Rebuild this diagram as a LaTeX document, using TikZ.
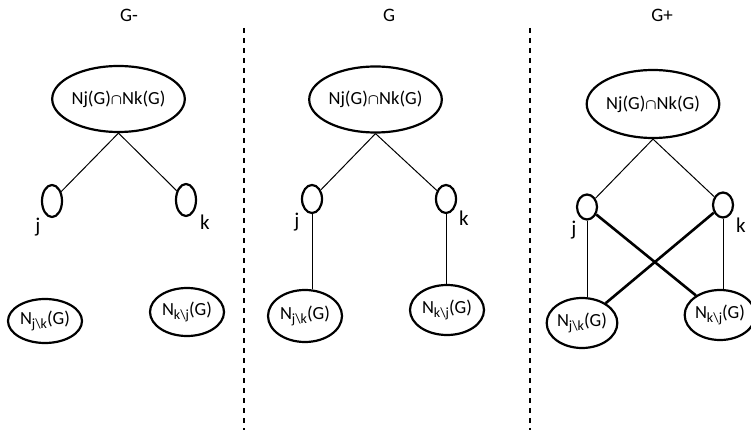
\documentclass[tikz,border=0pt]{standalone}
\usepackage{fontspec}
\setmainfont{Carlito}
\usepackage{amsmath,amssymb}
\usetikzlibrary{shapes.geometric}
\newcommand{\capsym}{\scalebox{0.85}{$\boldsymbol{\cap}$}}
\newcommand{\mysub}[1]{\raisebox{-0.25em}{\fontsize{14}{15}\selectfont #1}}
\newcommand{\Njk}{N\mysub{j\textbackslash k}(G)}
\newcommand{\Nkj}{N\mysub{k\textbackslash j}(G)}
\begin{document}
\begin{tikzpicture}[x=1pt,y=-1pt,
  ell/.style={draw,ellipse,line width=2.2pt,inner sep=0pt,font=\fontsize{18.5}{20}\selectfont},
  vtx/.style={draw,ellipse,line width=2.2pt,inner sep=0pt,minimum width=20pt},
  lab/.style={font=\fontsize{21}{23}\selectfont,inner sep=0pt},
  ttl/.style={font=\fontsize{19}{21}\selectfont,inner sep=0pt},
  edge/.style={line width=1pt},
  thinedge/.style={line width=0.8pt},
  thickedge/.style={line width=2.6pt},
  sep/.style={line width=1.8pt,dash pattern=on 5pt off 5pt}]
\useasboundingbox (0,0) rectangle (751,430);
% titles
\node[ttl] (t1) at (129,15) {G-};
\node[ttl] (t2) at (389,15) {G};
\node[ttl] (t3) at (662,15) {G+};
% separators
\coordinate (s1a) at (244,28); \coordinate (s1b) at (244,430);
\coordinate (s2a) at (530,28); \coordinate (s2b) at (530,430);
\draw[sep] (s1a) -- (s1b);
\draw[sep] (s2a) -- (s2b);
% panel 1
\node[ell,minimum width=103pt,minimum height=66pt] (T1) at (118.5,99) {Nj(G)\capsym Nk(G)};
\node[vtx,minimum height=32pt] (j1) at (52,201) {};
\node[vtx,minimum height=32pt] (k1) at (186,200) {};
\node[lab] (lj1) at (38,227) {j};
\node[lab] (lk1) at (205,222) {k};
\node[ell,minimum width=74pt,minimum height=44pt] (A1) at (45,321) {\Njk};
\node[ell,minimum width=74pt,minimum height=48pt] (B1) at (187,312) {\Nkj};
\draw[edge] (T1.south) -- (j1);
\draw[edge] (T1.south) -- (k1);
% panel 2
\node[ell,minimum width=104pt,minimum height=66pt] (T2) at (375.5,99.5) {Nj(G)\capsym Nk(G)};
\node[vtx,minimum height=28pt] (j2) at (312,199) {};
\node[vtx,minimum height=28pt] (k2) at (446,199) {};
\node[lab] (lj2) at (297,222) {j};
\node[lab] (lk2) at (464,218) {k};
\node[ell,minimum width=74pt,minimum height=52pt] (A2) at (305,316) {\Njk};
\node[ell,minimum width=74pt,minimum height=50pt] (B2) at (447,310) {\Nkj};
\draw[edge] (T2.south) -- (j2);
\draw[edge] (T2.south) -- (k2);
\draw[edge] (j2.south) -- (j2.south |- A2.north);
\draw[edge] (k2.south) -- (k2.south |- B2.north);
% panel 3
\node[ell,minimum width=104pt,minimum height=68pt] (T3) at (653,104) {Nj(G)\capsym Nk(G)};
\node[vtx,minimum height=25pt] (j3) at (587,207) {};
\node[vtx,minimum height=25pt] (k3) at (723,205) {};
\node[lab] (lj3) at (574,230) {j};
\node[lab] (lk3) at (741,225) {k};
\node[ell,minimum width=70pt,minimum height=50pt] (A3) at (582,323) {\Njk};
\node[ell,minimum width=66pt,minimum height=50pt] (B3) at (720,315) {\Nkj};
\draw[edge] (T3.south) -- (j3);
\draw[edge] (T3.south) -- (k3);
\draw[thinedge] (j3.south) -- (j3.south |- A3.north);
\draw[thinedge] (k3.south) -- (k3.south |- B3.north);
\draw[thickedge] (j3) -- (B3);
\draw[thickedge] (k3) -- (A3);
\end{tikzpicture}
\end{document}
